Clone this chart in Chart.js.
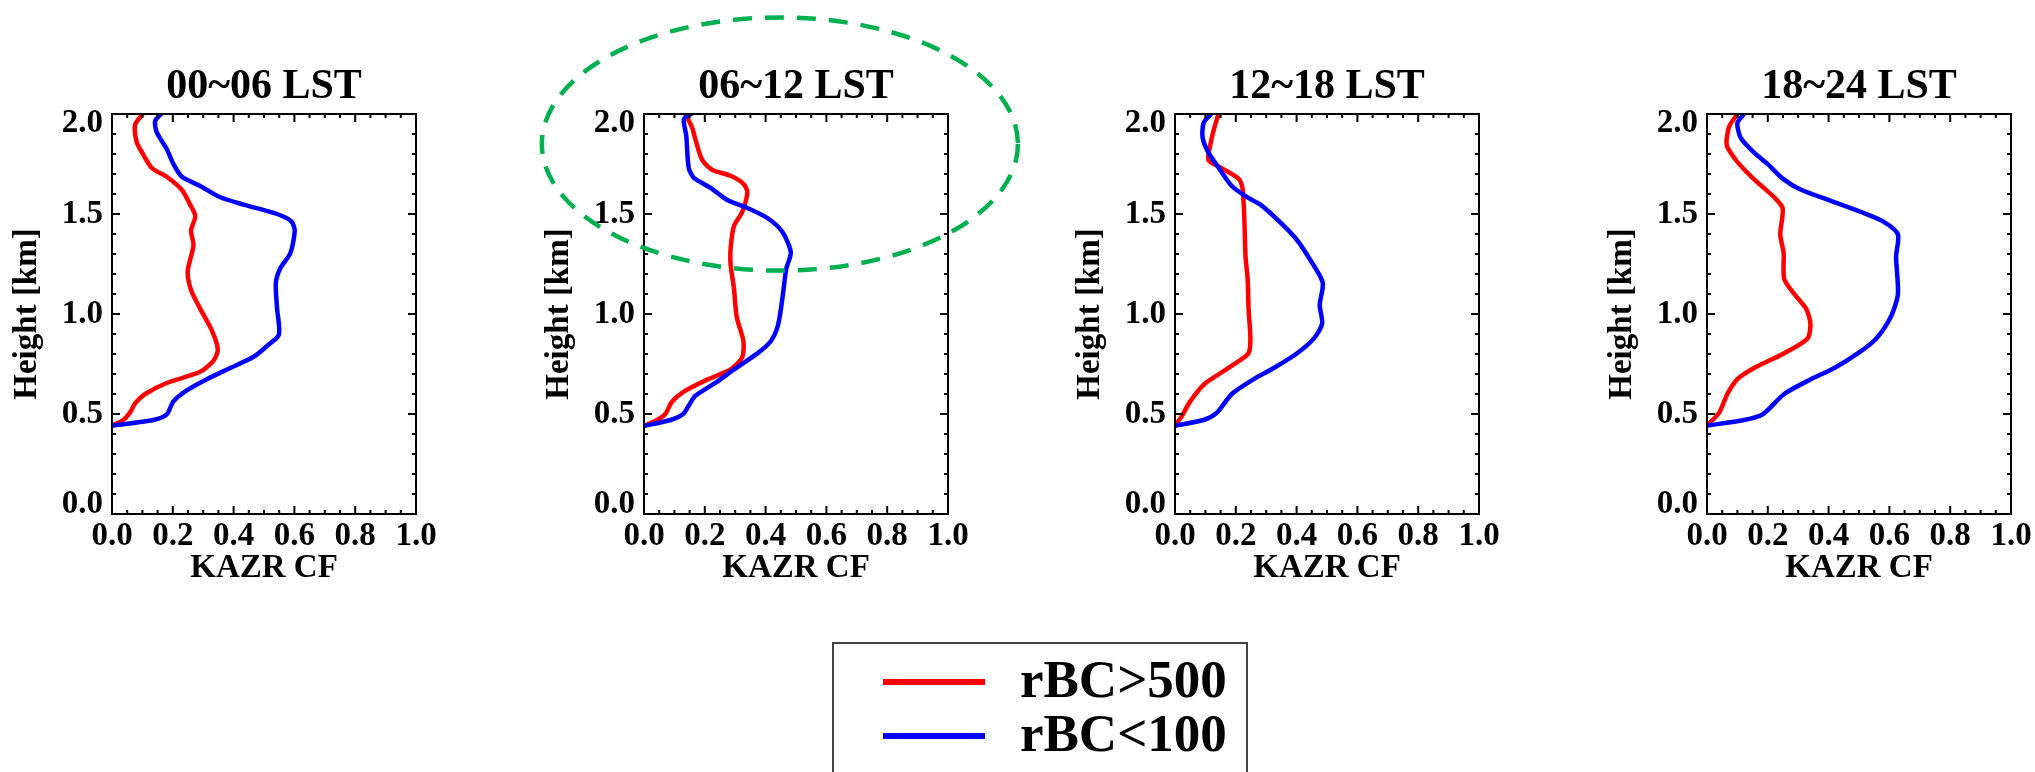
<!DOCTYPE html>
<html>
<head>
<meta charset="utf-8">
<title>KAZR CF profiles by time of day</title>
<script src="https://cdn.jsdelivr.net/npm/chart.js@4.4.1/dist/chart.umd.min.js"></script>
<style>
  body { margin: 0; width: 2035px; height: 772px; overflow: hidden; background: #fff; position: relative; }
  canvas.panel { position: absolute; top: 0; }
  #legend { position: absolute; left: 832px; top: 642px; width: 412px; height: 200px; border: 2px solid #444; }
  .key { position: absolute; left: 49px; width: 102px; height: 6px; }
  .key-text { position: absolute; left: 186px; font-family: 'Liberation Serif', 'Times New Roman', serif; font-weight: bold; font-size: 53px; line-height: 53px; color: #000; white-space: nowrap; }
</style>
</head>
<body>
<canvas class="panel" id="p0" width="500" height="620" style="left:0px"></canvas>
<canvas class="panel" id="p1" width="500" height="620" style="left:532px"></canvas>
<canvas class="panel" id="p2" width="500" height="620" style="left:1063px"></canvas>
<canvas class="panel" id="p3" width="500" height="620" style="left:1595px"></canvas>
<div id="legend"></div>
<script>
const panelTitles = ['00~06 LST', '06~12 LST', '12~18 LST', '18~24 LST'];
const seriesLabels = ['rBC>500', 'rBC<100'];
const seriesColors = ['#ff0000', '#0000ff'];
const xTickValues = [0, 0.2, 0.4, 0.6, 0.8, 1.0];
const yTickValues = [0, 0.5, 1.0, 1.5, 2.0];
const xTitle = 'KAZR CF';
const yTitle = 'Height [km]';

// 00~06 LST
const h0006High = [0.442, 0.47, 0.507, 0.553, 0.6, 0.655, 0.711, 0.767, 0.823, 0.916, 1.027, 1.12, 1.213, 1.343, 1.417, 1.49, 1.547, 1.62, 1.686, 1.73, 1.81, 1.86, 1.946, 2.0];
const cf0006High = [0, 0.037, 0.059, 0.076, 0.109, 0.18, 0.29, 0.334, 0.348, 0.329, 0.29, 0.26, 0.249, 0.268, 0.26, 0.274, 0.257, 0.23, 0.18, 0.131, 0.098, 0.081, 0.076, 0.101];
const h0006Low = [0.442, 0.47, 0.498, 0.563, 0.618, 0.674, 0.73, 0.786, 0.84, 0.897, 1.027, 1.156, 1.23, 1.305, 1.417, 1.463, 1.5, 1.547, 1.584, 1.64, 1.686, 1.75, 1.825, 1.909, 1.965, 2.0];
const cf0006Low = [0, 0.136, 0.18, 0.202, 0.246, 0.312, 0.389, 0.466, 0.51, 0.549, 0.543, 0.539, 0.554, 0.587, 0.601, 0.59, 0.543, 0.433, 0.356, 0.29, 0.23, 0.202, 0.18, 0.147, 0.142, 0.161];

// 06~12 LST
const h0612High = [0.44, 0.47, 0.5, 0.561, 0.612, 0.672, 0.723, 0.783, 0.864, 0.985, 1.126, 1.247, 1.328, 1.44, 1.51, 1.61, 1.651, 1.691, 1.721, 1.772, 1.873, 1.933, 2.0];
const cf0612High = [0, 0.043, 0.07, 0.092, 0.131, 0.208, 0.285, 0.323, 0.327, 0.305, 0.296, 0.285, 0.285, 0.296, 0.323, 0.34, 0.327, 0.285, 0.224, 0.191, 0.169, 0.158, 0.136];
const h0612Low = [0.44, 0.47, 0.5, 0.541, 0.591, 0.662, 0.723, 0.803, 0.864, 0.945, 1.086, 1.227, 1.308, 1.409, 1.48, 1.53, 1.57, 1.631, 1.681, 1.732, 1.893, 1.974, 2.0];
const cf0612Low = [0, 0.087, 0.129, 0.147, 0.169, 0.241, 0.296, 0.373, 0.417, 0.441, 0.456, 0.468, 0.483, 0.456, 0.406, 0.34, 0.274, 0.219, 0.164, 0.147, 0.139, 0.131, 0.155];

// 12~18 LST
const h1218High = [0.442, 0.488, 0.563, 0.646, 0.693, 0.748, 0.804, 0.878, 1.027, 1.175, 1.287, 1.435, 1.547, 1.63, 1.677, 1.733, 1.77, 1.844, 1.918, 2.0];
const cf1218High = [0, 0.022, 0.05, 0.094, 0.138, 0.193, 0.242, 0.248, 0.242, 0.239, 0.232, 0.229, 0.226, 0.222, 0.209, 0.149, 0.11, 0.116, 0.127, 0.143];
const h1218Low = [0.442, 0.47, 0.507, 0.6, 0.674, 0.73, 0.804, 0.878, 0.952, 1.045, 1.156, 1.268, 1.38, 1.473, 1.547, 1.584, 1.64, 1.733, 1.807, 1.881, 1.955, 2.0];
const cf1218Low = [0, 0.094, 0.138, 0.187, 0.259, 0.325, 0.402, 0.457, 0.484, 0.476, 0.486, 0.446, 0.396, 0.336, 0.281, 0.237, 0.187, 0.143, 0.11, 0.091, 0.094, 0.118];

// 18~24 LST
const h1824High = [0.442, 0.507, 0.6, 0.674, 0.73, 0.804, 0.878, 0.952, 1.027, 1.1, 1.175, 1.305, 1.398, 1.528, 1.584, 1.658, 1.714, 1.77, 1.844, 1.937, 2.0];
const cf1824High = [0, 0.04, 0.067, 0.1, 0.155, 0.254, 0.331, 0.34, 0.326, 0.287, 0.254, 0.252, 0.241, 0.249, 0.221, 0.166, 0.128, 0.095, 0.065, 0.073, 0.1];
const h1824Low = [0.442, 0.47, 0.498, 0.6, 0.674, 0.73, 0.804, 0.878, 0.99, 1.1, 1.287, 1.398, 1.463, 1.51, 1.566, 1.621, 1.677, 1.751, 1.807, 1.881, 1.955, 2.0];
const cf1824Low = [0, 0.122, 0.183, 0.254, 0.342, 0.419, 0.497, 0.557, 0.606, 0.628, 0.622, 0.628, 0.579, 0.507, 0.408, 0.309, 0.249, 0.199, 0.155, 0.111, 0.1, 0.122];

const profiles = [
  [[h0006High, cf0006High], [h0006Low, cf0006Low]],
  [[h0612High, cf0612High], [h0612Low, cf0612Low]],
  [[h1218High, cf1218High], [h1218Low, cf1218Low]],
  [[h1824High, cf1824High], [h1824Low, cf1824Low]]
];

// dashed ring around the upper layer of the 06~12 panel, in data units
const ringMark = { panel: 1, x: 0.447, y: 1.85, rx: 0.783, ry: 0.633 };

const serif = "'Liberation Serif', 'Times New Roman', serif";
const labelFont = { family: serif, size: 33, weight: 'bold', lineHeight: 1.2 };
// end labels on the height axis sit inside the box: a blank extra line with a
// short line height nudges them toward the middle
const endFont = { family: serif, size: 33, weight: 'bold', lineHeight: 0.6 };

// box around the plot with inward major/minor ticks on all four sides
const framePlugin = {
  id: 'frame',
  afterDraw(chart) {
    const { ctx, chartArea: a, scales: { x, y } } = chart;
    ctx.save();
    ctx.strokeStyle = '#000';
    ctx.lineWidth = 2;
    ctx.strokeRect(a.left, a.top, a.right - a.left, a.bottom - a.top);
    ctx.beginPath();
    for (let i = 0; i <= 20; i++) {
      const px = x.getPixelForValue(i * 0.05);
      const len = i % 4 === 0 ? 8 : 4;
      ctx.moveTo(px, a.bottom); ctx.lineTo(px, a.bottom - len);
      ctx.moveTo(px, a.top); ctx.lineTo(px, a.top + len);
    }
    for (let i = 0; i <= 20; i++) {
      const py = y.getPixelForValue(i * 0.1);
      const len = i % 5 === 0 ? 8 : 4;
      ctx.moveTo(a.left, py); ctx.lineTo(a.left + len, py);
      ctx.moveTo(a.right, py); ctx.lineTo(a.right - len, py);
    }
    ctx.stroke();
    ctx.restore();
  }
};

const ringPlugin = {
  id: 'ring',
  afterDraw(chart) {
    const { ctx, scales: { x, y } } = chart;
    const cx = x.getPixelForValue(ringMark.x);
    const cy = y.getPixelForValue(ringMark.y);
    const rx = x.getPixelForValue(ringMark.x + ringMark.rx) - cx;
    const ry = cy - y.getPixelForValue(ringMark.y + ringMark.ry);
    ctx.save();
    ctx.strokeStyle = '#00b050';
    ctx.lineWidth = 4.5;
    ctx.setLineDash([19, 13]);
    ctx.beginPath();
    ctx.ellipse(cx, cy, rx, ry, 0, 0, Math.PI * 2);
    ctx.stroke();
    ctx.restore();
  }
};

const yMin = yTickValues[0];
const yMax = yTickValues[yTickValues.length - 1];

function heightLabel(v) {
  const s = Number(v).toFixed(1);
  if (v === yMax) return ['', s];
  if (v === yMin) return [s, ''];
  return s;
}

profiles.forEach((curves, i) => {
  const datasets = curves.map(([heights, cf], k) => ({
    label: seriesLabels[k],
    data: cf.map((v, j) => ({ x: v, y: heights[j] })),
    borderColor: seriesColors[k],
    borderWidth: 4.5,
    pointRadius: 0,
    tension: 0.25,
    borderJoinStyle: 'round',
    borderCapStyle: 'round',
    order: k === 0 ? 1 : 0
  }));

  new Chart(document.getElementById('p' + i), {
    type: 'line',
    data: { datasets },
    options: {
      responsive: false,
      animation: false,
      devicePixelRatio: 1,
      layout: { padding: { top: 0, left: 0, right: 84, bottom: 0 } },
      plugins: {
        legend: { display: false },
        tooltip: { enabled: false },
        title: {
          display: true,
          fullSize: false,
          text: panelTitles[i],
          color: '#000',
          font: { family: serif, size: 42, weight: 'bold', lineHeight: 1.2 },
          padding: { top: 62, bottom: 1.6 }
        }
      },
      scales: {
        x: {
          type: 'linear',
          min: 0,
          max: 1,
          afterBuildTicks: s => { s.ticks = xTickValues.map(v => ({ value: v })); },
          afterFit: s => { s.height = 106; },
          grid: { display: false, drawTicks: false, tickLength: 0 },
          border: { display: false },
          ticks: { padding: 3, color: '#000', font: labelFont, maxRotation: 0, autoSkip: false, callback: v => Number(v).toFixed(1) },
          title: { display: true, text: xTitle, color: '#000', font: labelFont, padding: { top: 0, bottom: 32 } }
        },
        y: {
          type: 'linear',
          min: yMin,
          max: yMax,
          afterBuildTicks: s => { s.ticks = yTickValues.map(v => ({ value: v })); },
          afterFit: s => { s.width = 112; },
          grid: { display: false, drawTicks: false, tickLength: 0 },
          border: { display: false },
          ticks: {
            padding: 9,
            color: '#000',
            autoSkip: false,
            font: c => (c.tick && (c.tick.value === yMin || c.tick.value === yMax)) ? endFont : labelFont,
            callback: heightLabel
          },
          title: { display: true, text: yTitle, color: '#000', font: labelFont, padding: { top: 8, bottom: 0 } }
        }
      }
    },
    plugins: i === ringMark.panel ? [framePlugin, ringPlugin] : [framePlugin]
  });
});

// shared legend below the panels
const legend = document.getElementById('legend');
seriesLabels.forEach((label, k) => {
  const key = document.createElement('div');
  key.className = 'key';
  key.style.top = (35 + k * 54) + 'px';
  key.style.background = seriesColors[k];
  legend.appendChild(key);
  const text = document.createElement('div');
  text.className = 'key-text';
  text.style.top = (9 + k * 54) + 'px';
  text.textContent = label;
  legend.appendChild(text);
});
</script>
</body>
</html>
